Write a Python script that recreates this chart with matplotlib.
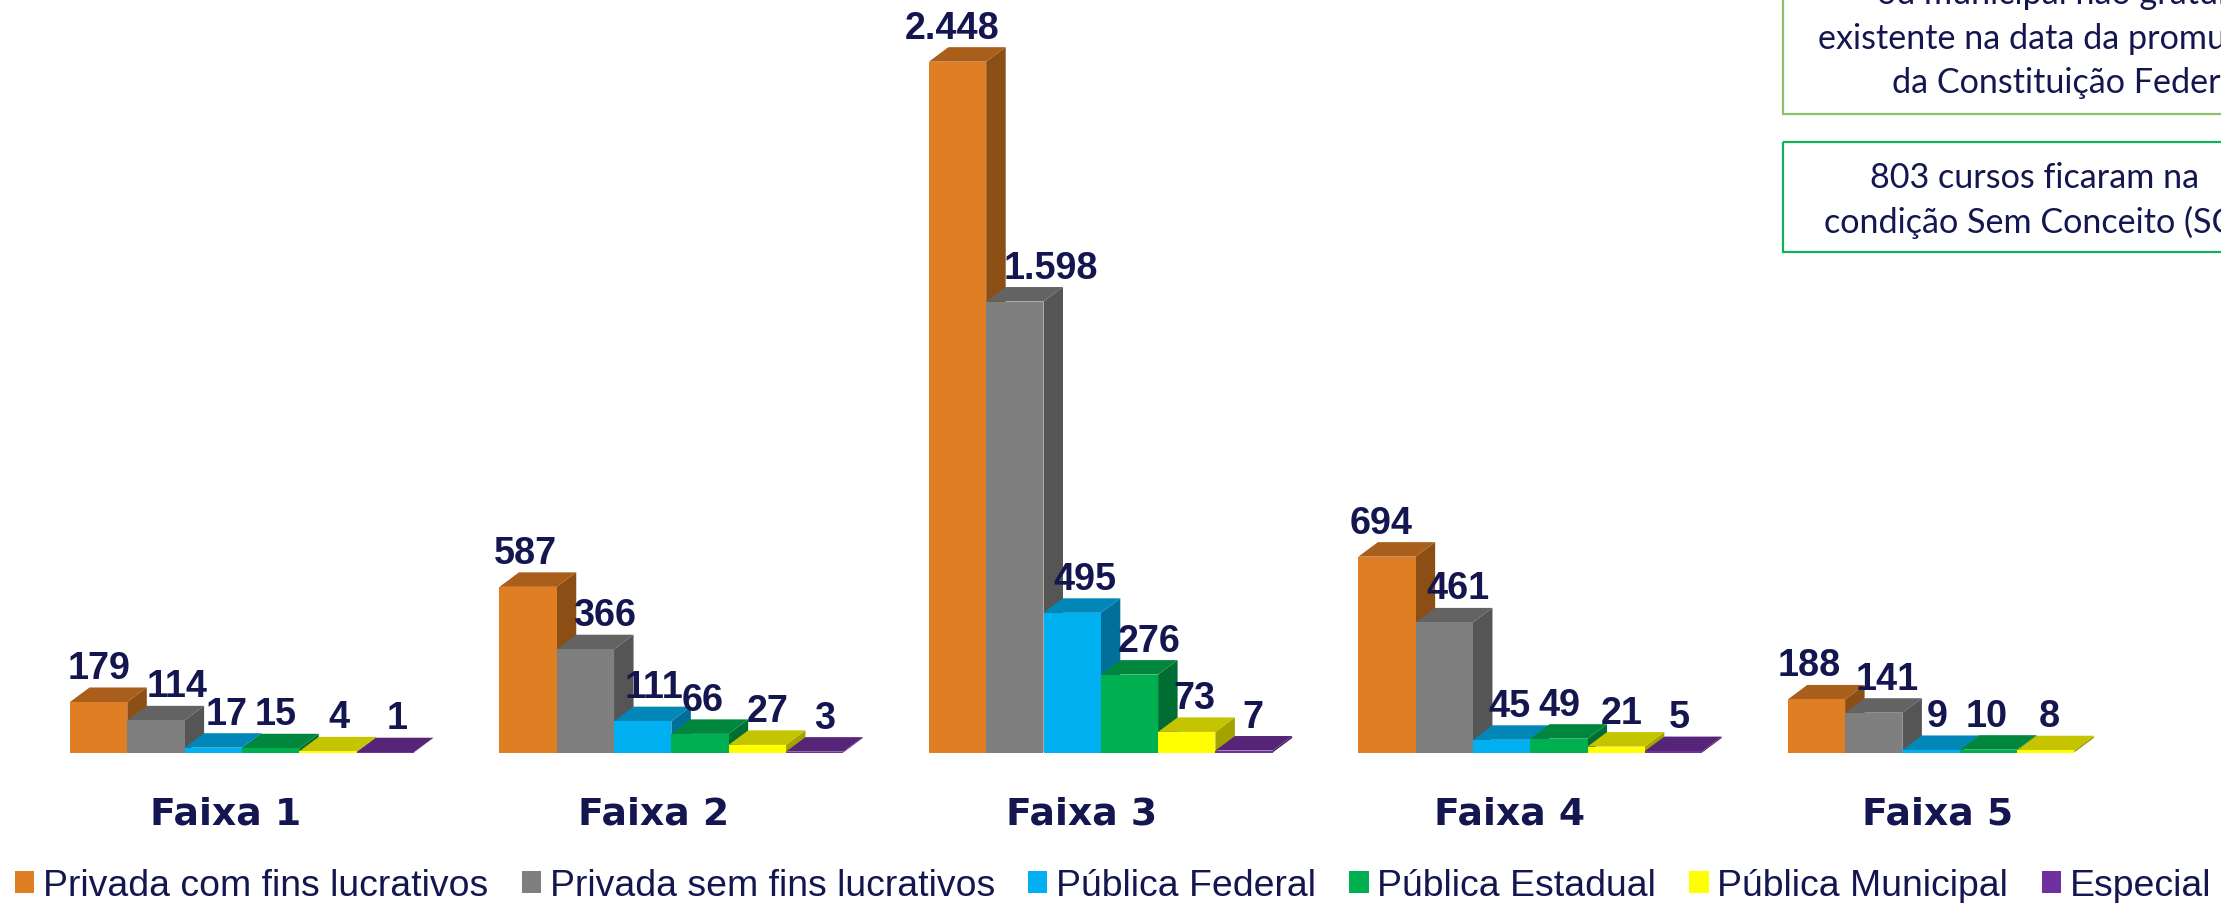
import numpy as np
import matplotlib
matplotlib.use("Agg")
import matplotlib.pyplot as plt
from matplotlib.patches import Polygon, Rectangle

W, H = 2221, 904
faixas = ["Faixa 1", "Faixa 2", "Faixa 3", "Faixa 4", "Faixa 5"]
series = ["Privada com fins lucrativos", "Privada sem fins lucrativos", "Pública Federal",
          "Pública Estadual", "Pública Municipal", "Especial"]
privada_com = [179, 587, 2448, 694, 188]
privada_sem = [114, 366, 1598, 461, 141]
pub_federal = [17, 111, 495, 45, 9]
pub_estadual = [15, 66, 276, 49, 10]
pub_municipal = [4, 27, 73, 21, 8]
especial = [1, 3, 7, 5, None]
values = [privada_com, privada_sem, pub_federal, pub_estadual, pub_municipal, especial]

front = ["#E07E24", "#7F7F7F", "#00B0F0", "#00B050", "#FFFF00", "#7030A0"]
top = ["#AA5E1B", "#636363", "#0187B8", "#00873D", "#C4C400", "#562578"]
side = ["#8B4F15", "#555555", "#016F9A", "#006E32", "#A3A300", "#471F63"]
NAVY = "#141650"

# horizontal nudge (px) of each value label from its bar centre, per faixa
label_dx = [[0, 21, 13, 5, 11, 12],
            [-3, 19, 11, 3, 10, 10],
            [-5, 36, 13, 20, 8, 9],
            [-6, 14, 8, 0, 5, 6],
            [-7, 13, 6, -2, 4, 0]]

def fmt(v):
    return f"{v:,}".replace(",", ".")

X0, STEP, BAR_PX, BASE, PX_PER_UNIT = 70, 429.45, 57.3, 753.5, 0.2822
DX_PX, DY_PX = 19.5, 14.5

fig = plt.figure(figsize=(W / 100, H / 100), dpi=100, facecolor="white")
ax = fig.add_axes([0, 1 - BASE / H, 1, BASE / H])
ax.set_xlim(-X0 / STEP, (W - X0) / STEP)
ax.set_ylim(0, BASE / PX_PER_UNIT)
bw = BAR_PX / STEP
ddx, ddy = DX_PX / STEP, DY_PX / PX_PER_UNIT

for j, vals in enumerate(values):
    for i, v in enumerate(vals):
        if v is None:
            continue
        x = i + j * bw
        z = 2 + j
        ax.add_patch(Polygon([(x + bw, 0), (x + bw + ddx, ddy), (x + bw + ddx, v + ddy), (x + bw, v)],
                             closed=True, fc=side[j], ec="none", zorder=z))
        ax.add_patch(Polygon([(x, v), (x + ddx, v + ddy), (x + bw + ddx, v + ddy), (x + bw, v)],
                             closed=True, fc=top[j], ec="none", zorder=z))
        ax.bar(x, v, width=bw, align="edge", color=front[j], linewidth=0, zorder=z,
               label=series[j] if i == 0 else None)
        ax.annotate(fmt(v), xy=(x + bw / 2, v), xytext=(label_dx[i][j] * 0.72, 34 * 0.72),
                    textcoords="offset points", ha="center", va="center", fontsize=27.2,
                    fontweight="bold", family="Liberation Sans", color=NAVY, zorder=20)

ax.set_xticks(np.arange(5) * 0.9965 + 0.362, faixas)
ax.tick_params(axis="x", length=0, pad=31, labelsize=27.2, labelcolor=NAVY)
for t in ax.get_xticklabels():
    t.set_fontweight("bold")
    t.set_family("DejaVu Sans")
ax.set_yticks([])
for s in ax.spines.values():
    s.set_visible(False)
ax.patch.set_alpha(0)

leg = fig.legend(loc="lower left", bbox_to_anchor=(15 / W, 0 / H), ncols=6, frameon=False,
                 prop={"family": "Liberation Sans", "size": 26.9}, labelcolor=NAVY,
                 handlelength=0.52, handleheight=0.52, handletextpad=0.23,
                 columnspacing=0.89, borderpad=0, borderaxespad=0)

ov = fig.add_axes([0, 0, 1, 1], zorder=30)
ov.set_xlim(0, W)
ov.set_ylim(H, 0)
ov.axis("off")
ov.patch.set_alpha(0)
ov.add_patch(Rectangle((1783, -20), 500, 134.5, fc="none", ec="#8CC06A", lw=1.6))
ov.add_patch(Rectangle((1783, 143), 500, 110, fc="none", ec="#12B15A", lw=1.6))
for xl, yb, line in [(1877, 4, "ou municipal não gratuita,"), (1818, 49, "existente na data da promulgação"),
                     (1892, 93, "da Constituição Federal"), (1870, 188, "803 cursos ficaram na"),
                     (1824, 233, "condição Sem Conceito (SC)")]:
    ov.text(xl, yb, line, ha="left", va="baseline", fontsize=24.6, family="Lato", color=NAVY)

fig.savefig("out.png", dpi=100)
